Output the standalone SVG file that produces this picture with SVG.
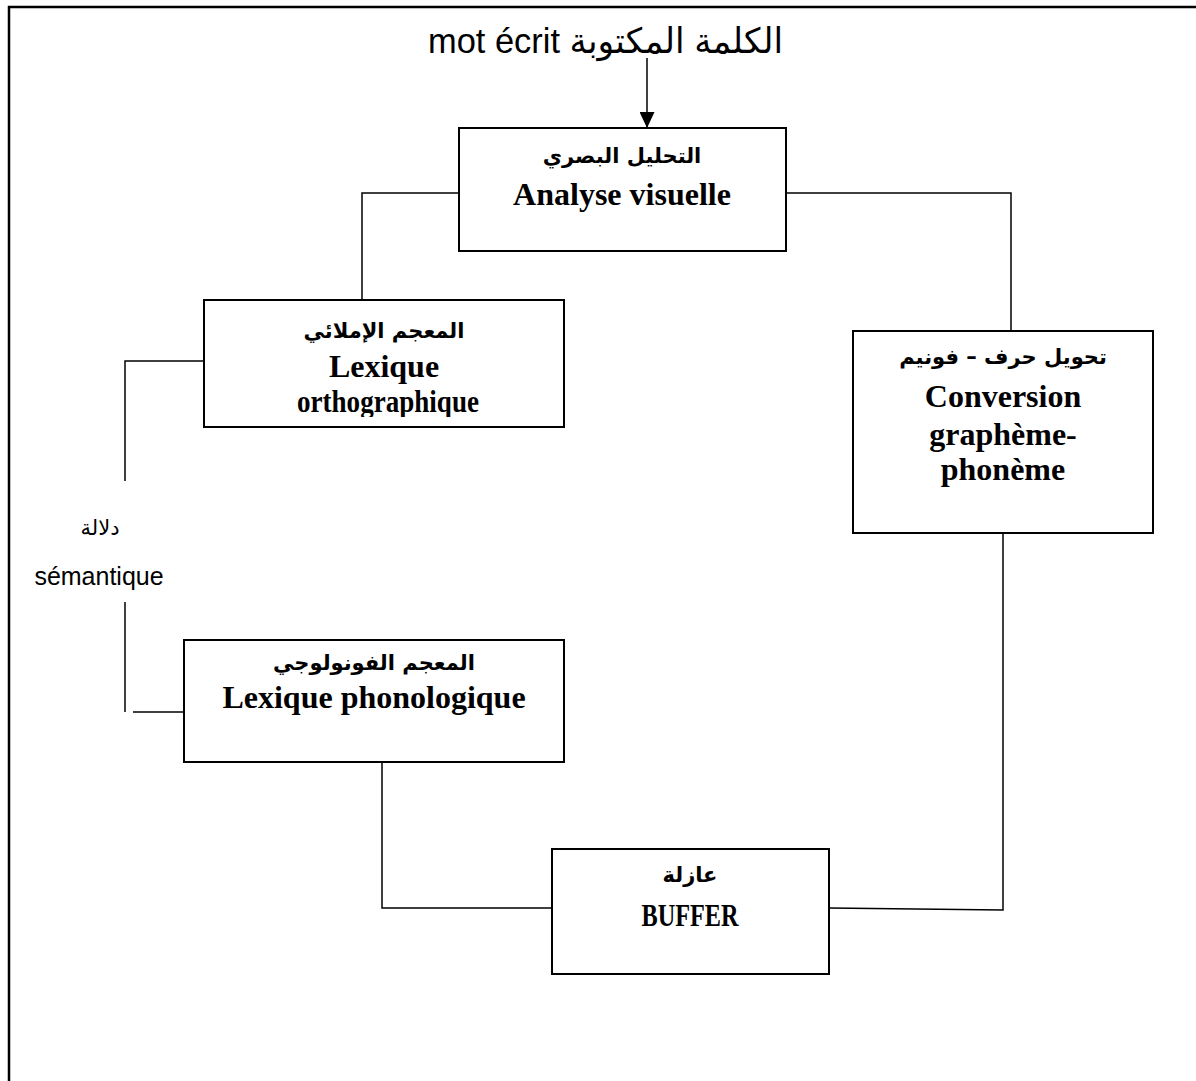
<svg xmlns="http://www.w3.org/2000/svg" width="1196" height="1081" viewBox="0 0 1196 1081">
  <style>
    .box { fill: #fff; stroke: #000; stroke-width: 2; }
    .wire { fill: none; stroke: #000; stroke-width: 1.5; }
    .frame { fill: none; stroke: #000; stroke-width: 2.5; }
    .ar { font-family: "DejaVu Sans", sans-serif; font-weight: bold; font-size: 21px; text-anchor: middle; }
    .en { font-family: "Liberation Serif", "Times New Roman", serif; font-weight: bold; font-size: 32px; text-anchor: middle; }
    .plain { font-family: "Liberation Sans", Arial, "DejaVu Sans", sans-serif; fill: #000; }
  </style>
  <defs>
    <marker id="head" viewBox="0 0 16 15" refX="16" refY="7.5" markerWidth="16" markerHeight="15" markerUnits="userSpaceOnUse" orient="auto">
      <path d="M0,0 L16,7.5 L0,15 Z" fill="#000"/>
    </marker>
    <clipPath id="ortho-clip">
      <rect x="204" y="300" width="360" height="117"/>
    </clipPath>
  </defs>

  <rect width="1196" height="1081" fill="#fff"/>

  <!-- page frame: top and left edges only -->
  <path class="frame" d="M9,1081 L9,7 L1196,7"/>

  <!-- input label -->
  <text class="plain" x="428" y="53" font-size="35" textLength="355" lengthAdjust="spacingAndGlyphs">mot écrit الكلمة المكتوبة</text>

  <!-- connectors -->
  <g id="connectors">
    <line class="wire" x1="647" y1="58" x2="647" y2="128" marker-end="url(#head)"/>
    <polyline class="wire" points="459,193 362,193 362,300"/>
    <polyline class="wire" points="786,193 1011,193 1011,331"/>
    <polyline class="wire" points="204,361 125,361 125,481"/>
    <line class="wire" x1="125" y1="602" x2="125" y2="712"/>
    <line class="wire" x1="133" y1="712" x2="184" y2="712"/>
    <polyline class="wire" points="382,762 382,908 552,908"/>
    <polyline class="wire" points="829,908 1003,910 1003,533"/>
  </g>

  <!-- semantic route label -->
  <g id="semantique">
    <text class="plain" x="100" y="535" font-size="21" text-anchor="middle">دلالة</text>
    <text class="plain" x="99" y="585" font-size="25" text-anchor="middle">sémantique</text>
  </g>

  <g id="analyse-visuelle">
    <rect class="box" x="459" y="128" width="327" height="123"/>
    <text class="ar" x="622" y="163">التحليل البصري</text>
    <text class="en" x="622" y="205">Analyse visuelle</text>
  </g>

  <g id="lexique-orthographique">
    <rect class="box" x="204" y="300" width="360" height="127"/>
    <g clip-path="url(#ortho-clip)">
      <text class="ar" x="384" y="338">المعجم الإملائي</text>
      <text class="en" x="384" y="377">Lexique</text>
      <text class="en" x="388" y="412" textLength="182" lengthAdjust="spacingAndGlyphs">orthographique</text>
    </g>
  </g>

  <g id="conversion">
    <rect class="box" x="853" y="331" width="300" height="202"/>
    <text class="ar" x="1003" y="364">تحويل حرف – فونيم</text>
    <text class="en" x="1003" y="407">Conversion</text>
    <text class="en" x="1003" y="445">graphème-</text>
    <text class="en" x="1003" y="480">phonème</text>
  </g>

  <g id="lexique-phonologique">
    <rect class="box" x="184" y="640" width="380" height="122"/>
    <text class="ar" x="374" y="670">المعجم الفونولوجي</text>
    <text class="en" x="374" y="708">Lexique phonologique</text>
  </g>

  <g id="buffer">
    <rect class="box" x="552" y="849" width="277" height="125"/>
    <text class="ar" x="690" y="882" font-size="23">عازلة</text>
    <text class="en" x="690" y="926" textLength="97" lengthAdjust="spacingAndGlyphs">BUFFER</text>
  </g>
</svg>
